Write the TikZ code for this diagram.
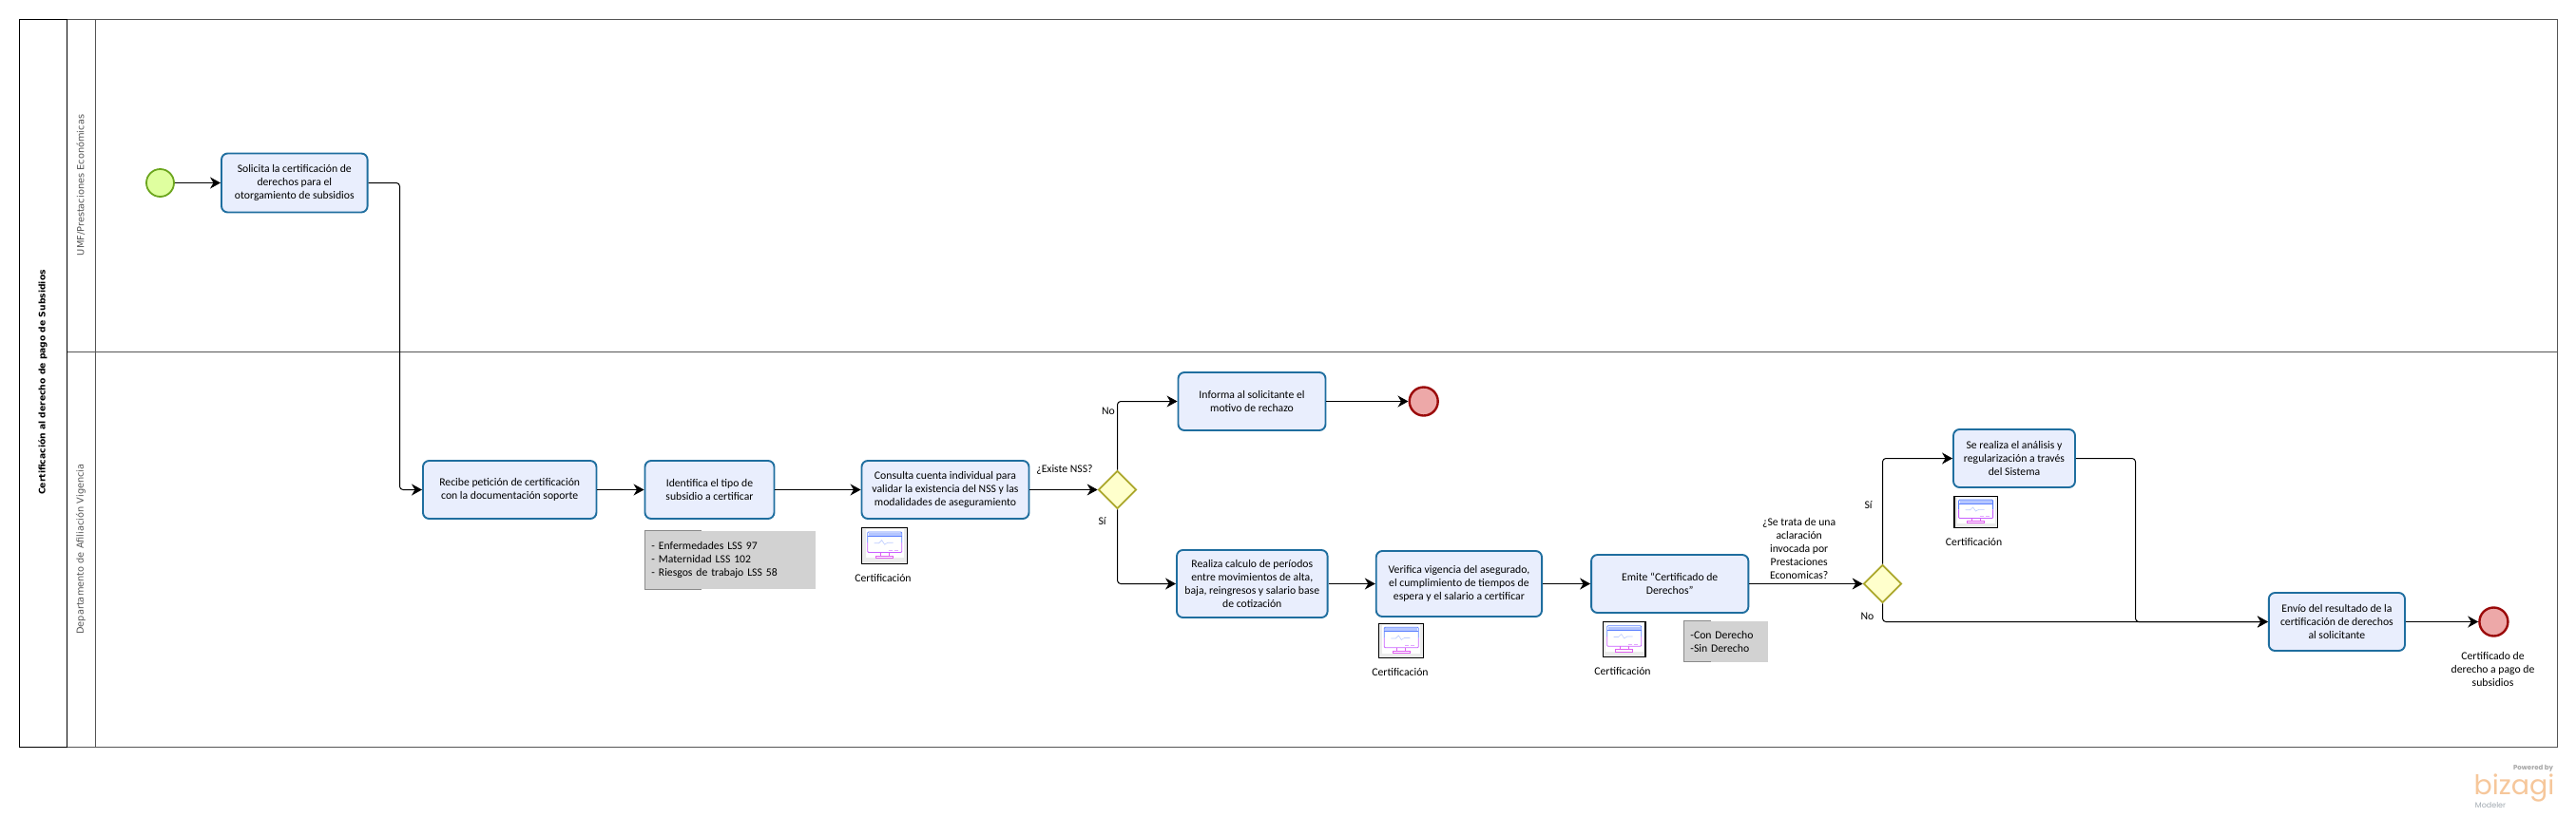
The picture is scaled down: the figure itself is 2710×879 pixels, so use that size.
\documentclass[tikz,border=0pt]{standalone}
\usepackage{fontspec}
\setmainfont{Carlito}
\newfontfamily\lanefont{DejaVu Sans}
\newfontfamily\logofont{Poppins}
\usetikzlibrary{arrows.meta,shapes.geometric}
\definecolor{taskline}{HTML}{1F6E9F}
\definecolor{taskfill}{HTML}{E9EEFD}
\definecolor{startline}{HTML}{6CA61E}
\definecolor{startfill}{HTML}{DFFF9F}
\definecolor{endline}{HTML}{9B0A0A}
\definecolor{endfill}{HTML}{EDA8A8}
\definecolor{gateline}{HTML}{ABA72B}
\definecolor{gatefill}{HTML}{FFFFCC}
\definecolor{lanegray}{HTML}{555555}
\definecolor{notegray}{HTML}{D2D2D2}
\definecolor{noteline}{HTML}{8A8A8A}
\definecolor{monblue}{HTML}{5B80FF}
\definecolor{monpurple}{HTML}{C860FF}
\definecolor{monpink}{HTML}{E060F0}
\definecolor{logoorange}{HTML}{F6C79B}
\definecolor{logogray}{HTML}{A3ABB2}
\tikzset{
  x=1pt,y=-1pt,
  body/.style={font=\fontsize{11.7}{14}\selectfont,align=center,inner sep=0pt,text=black},
  task/.style={body,draw=taskline,fill=taskfill,line width=1.9pt,rounded corners=6.5pt},
  startev/.style={circle,draw=startline,fill=startfill,line width=1.8pt,minimum size=29pt,inner sep=0pt},
  endev/.style={circle,draw=endline,fill=endfill,line width=2.4pt,minimum size=30pt,inner sep=0pt},
  gate/.style={diamond,aspect=1,draw=gateline,fill=gatefill,line width=1.7pt,minimum size=40pt,inner sep=0pt},
  flow/.style={draw=black,line width=1pt,rounded corners=3.5pt,-{Stealth[length=11pt,width=12pt,inset=3.5pt]}},
  lab/.style={body},
  notebox/.style={font=\fontsize{11.7}{14}\selectfont,align=left,fill=notegray,inner xsep=7pt,inner ysep=0pt,anchor=center},
  lanelabel/.style={font=\lanefont\fontsize{9.8}{11}\selectfont,text=lanegray,rotate=90,inner sep=0pt},
  icoframe/.style={draw=black,line width=1.3pt,fill=black!8,inner sep=0pt},
  pics/monitor/.style={code={
    \fill[white] (-20,-17) rectangle (20,13);
    \fill[monblue!45] (-17,-13.3) rectangle (17,-10);
    \draw[monblue,line width=.8pt,rounded corners=1pt] (-18,-3) -- (-18,-14.3) -- (18,-14.3) -- (18,-3);
    \draw[monblue,line width=.7pt] (-18,-10) -- (18,-10);
    \draw[monpurple,line width=.8pt,rounded corners=1pt] (-18,-3) -- (-18,7.3) -- (18,7.3) -- (18,-3);
    \draw[monblue!40,line width=.6pt] (-11,-2.5) -- (-6,-2.5) -- (-3,-5.5) -- (0,-1) -- (3,-3) -- (9,-3);
    \draw[monpurple!55,line width=.7pt] (4,5) -- (8,5) (10,5) -- (14,5);
    \draw[monpink,line width=.8pt] (-4.5,7.3) -- (-4.5,11) (4.5,7.3) -- (4.5,11);
    \draw[monpink,line width=.8pt] (-9,10.8) rectangle (9,13);
  }}
}
\begin{document}
\begin{tikzpicture}
\useasboundingbox[fill=white] (0,0) rectangle (2710,879);

% pool and lanes
\draw[lanegray,line width=1pt] (70.5,20.5) rectangle (2690.5,786.5);
\draw[lanegray,line width=1pt] (70.5,370.5) -- (2690.5,370.5);
\draw[lanegray,line width=1pt] (100.5,20.5) -- (100.5,786.5);
\draw[black,line width=1.3pt] (70.5,20.5) -- (20.5,20.5) -- (20.5,786.5) -- (70.5,786.5);
\draw[black,line width=1pt] (70.5,20.5) -- (70.5,786.5);
\node[lanelabel,font=\lanefont\bfseries\fontsize{9.2}{11}\selectfont,text=black] (pooltitle) at (45,402.5) {Certificación al derecho de pago de Subsidios};
\node[lanelabel] (lane1) at (85,195) {UMF/Prestaciones Económicas};
\node[lanelabel] (lane2) at (85,578) {Departamento de Afiliación Vigencia};

% events and tasks
\node[startev] (start) at (168.5,192.5) {};
\node[task,minimum width=153.6pt,minimum height=62pt] (t1) at (309.8,192.5) {Solicita la certificación de\\derechos para el\\otorgamiento de subsidios};
\node[task,minimum width=182.5pt,minimum height=61pt] (t2) at (536.2,515.5) {Recibe petición de certificación\\con la documentación soporte};
\node[task,minimum width=136pt,minimum height=61pt] (t3) at (746.5,515.5) {Identifica el tipo de\\subsidio a certificar};
\node[task,minimum width=176pt,minimum height=61pt] (t4) at (994.5,515.5) {Consulta cuenta individual para\\validar la existencia del NSS y las\\modalidades de aseguramiento};
\node[gate] (g1) at (1175.5,515.5) {};
\node[task,minimum width=155pt,minimum height=61pt] (t5) at (1317,422.5) {Informa al solicitante el\\motivo de rechazo};
\node[endev] (e1) at (1497.7,422.5) {};
\node[task,minimum width=158.6pt,minimum height=71pt] (t6) at (1317.3,614.5) {Realiza calculo de períodos\\entre movimientos de alta,\\baja, reingresos y salario base\\de cotización};
\node[task,minimum width=174.3pt,minimum height=69pt] (t7) at (1534.9,614.5) {Verifica vigencia del asegurado,\\el cumplimiento de tiempos de\\espera y el salario a certificar};
\node[task,minimum width=165.3pt,minimum height=61pt] (t8) at (1756.7,614.5) {Emite “Certificado de\\Derechos”};
\node[gate] (g2) at (1980.5,614.5) {};
\node[task,minimum width=128pt,minimum height=61pt] (t9) at (2119,482.5) {Se realiza el análisis y\\regularización a través\\del Sistema};
\node[task,minimum width=143.2pt,minimum height=61pt] (t10) at (2458.4,654.5) {Envío del resultado de la\\certificación de derechos\\al solicitante};
\node[endev] (e2) at (2623.4,654.5) {};

% text annotations
\node[notebox,text width=165.5pt,minimum height=61pt] (n1) at (768.2,589.5) {- Enfermedades LSS 97\\- Maternidad LSS 102\\- Riesgos de trabajo LSS 58};
\node[notebox,text width=74.5pt,minimum height=42.7pt] (n2) at (1815.7,675.3) {-Con Derecho\\-Sin Derecho};
\draw[noteline,line width=1pt] (n1.north west) ++(60,0) -- (n1.north west) -- (n1.south west) -- ++(60,0);
\draw[noteline,line width=1pt] (n2.north west) ++(29,0) -- (n2.north west) -- (n2.south west) -- ++(29,0);

% artifacts
\node[icoframe,minimum width=48pt,minimum height=38pt] (i1) at (930.7,574.2) {};
\pic at (i1.center) {monitor};
\node[icoframe,minimum width=47pt,minimum height=36.5pt] (i2) at (1474.3,674.5) {};
\pic at (i2.center) {monitor};
\node[icoframe,minimum width=44.5pt,minimum height=37pt] (i3) at (1708.7,673) {};
\pic at (i3.center) {monitor};
\node[icoframe,minimum width=45.5pt,minimum height=33.5pt] (i4) at (2078.6,539) {};
\pic[yscale=.9] at (i4.center) {monitor};

\node[lab] (c1) at (929,608) {Certificación};
\node[lab] (c2) at (1473,707.3) {Certificación};
\node[lab] (c3) at (1707,706) {Certificación};
\node[lab] (c4) at (2076.6,570.3) {Certificación};

% connector labels
\node[lab] (q1) at (1120,494) {¿Existe NSS?};
\node[lab] (no1) at (1166,433) {No};
\node[lab] (si1) at (1159.6,548.3) {Sí};
\node[lab] (q2) at (1892.7,577.3) {¿Se trata de una\\aclaración\\invocada por\\Prestaciones\\Economicas?};
\node[lab] (si2) at (1965.6,532) {Sí};
\node[lab] (no2) at (1964.5,649) {No};
\node[lab] (e2lab) at (2622.5,704) {Certificado de\\derecho a pago de\\subsidios};

% connectors
\coordinate (j1) at (420.5,400);
\coordinate (j2) at (2246.5,560);
\draw[flow] (start) -- (t1);
\draw[flow] (t1.east) -| (j1) |- (t2.west);
\draw[flow] (t2) -- (t3);
\draw[flow] (t3) -- (t4);
\draw[flow] (t4) -- (g1);
\draw[flow] (g1.north) |- (t5.west);
\draw[flow] (g1.south) |- (t6.west);
\draw[flow] (t5) -- (e1);
\draw[flow] (t6) -- (t7);
\draw[flow] (t7) -- (t8);
\draw[flow] (t8) -- (g2);
\draw[flow] (g2.north) |- (t9.west);
\draw[flow] (g2.south) |- (t10.west);
\draw[flow] (t9.east) -| (j2) |- (t10.west);
\draw[flow] (t10) -- (e2);

% logo
\node[inner sep=0pt,font=\logofont\bfseries\fontsize{7}{8}\selectfont,text=black!35] (lg1) at (2665,808.5) {Powered by};
\node[inner sep=0pt,font=\logofont\fontsize{28.5}{30}\selectfont,text=logoorange] (lg2) at (2645,829) {bizagi};
\node[inner sep=0pt,font=\logofont\fontsize{8}{9}\selectfont,text=logogray] (lg3) at (2620,848) {Modeler};
\end{tikzpicture}
\end{document}
